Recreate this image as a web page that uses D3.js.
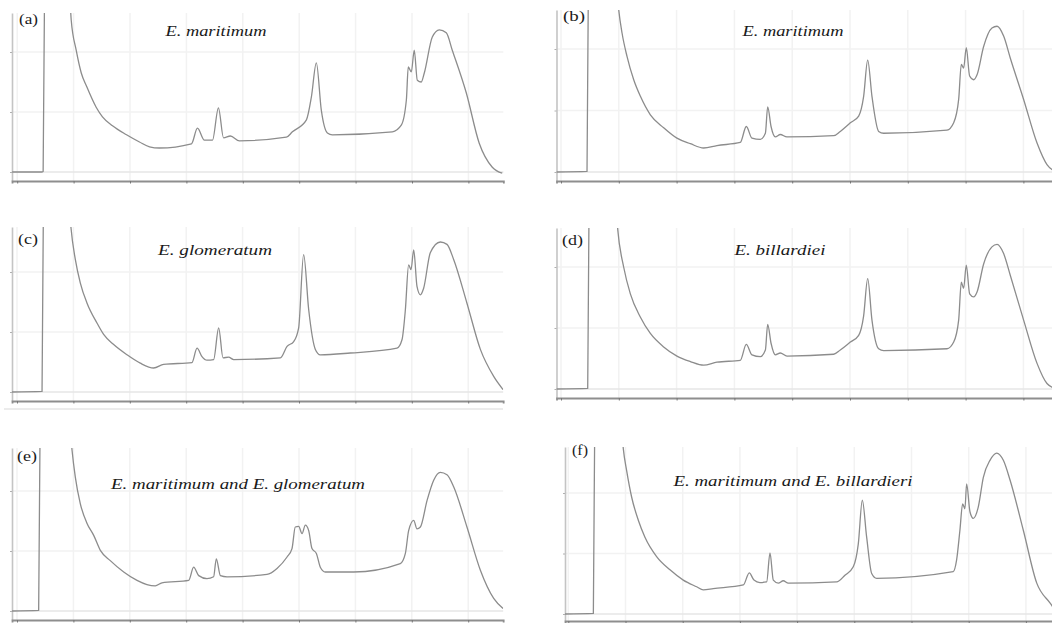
<!DOCTYPE html>
<html>
<head>
<meta charset="utf-8">
<script src="https://cdn.jsdelivr.net/npm/d3@7"></script>
<style>
    html, body { margin: 0; padding: 0; background: #fff; }
    svg { display: block; }
</style>
</head>
<body>
<div id="chart"></div>
<script>
// ========================================
// Chromatogram panels (a)–(f) — D3.js
// ========================================

// ---- Data ([time, signal]) ----
const panelLetters = ['(a)', '(b)', '(c)', '(d)', '(e)', '(f)'];
const speciesNames = [
    'E. maritimum',
    'E. maritimum',
    'E. glomeratum',
    'E. billardiei',
    'E. maritimum and E. glomeratum',
    'E. maritimum and E. billardieri'
];
const xTicks = [0, 5, 10, 15, 20, 25, 30, 35, 40];
const yTicks = [0, 1, 2];

const traceA = [
    [-0.45, 0], [2.16, 0], [2.3, 0.01], [2.45, 3.6], [4.3, 4.2], [4.79, 2.53], [5.23, 2.03],
    [5.68, 1.65], [6.17, 1.42], [7.0, 1.08], [7.56, 0.92], [8.45, 0.77], [9.69, 0.62],
    [10.84, 0.5], [11.73, 0.42], [12.61, 0.40], [15.45, 0.47], [15.98, 0.73], [16.6, 0.53],
    [17.31, 0.53], [17.84, 1.07], [18.29, 0.57], [18.9, 0.6], [19.7, 0.52], [23.86, 0.58],
    [24.4, 0.67], [25.64, 0.87], [26.08, 1.25], [26.52, 1.82], [26.96, 1.03], [27.5, 0.65],
    [27.94, 0.62], [33.26, 0.67], [34.05, 0.78], [34.5, 1.2], [34.67, 1.75], [34.94, 1.67],
    [35.2, 2.03], [35.47, 1.53], [35.82, 1.5], [36.09, 1.65], [36.8, 2.25], [37.42, 2.37],
    [38.04, 2.32], [38.57, 2.03], [39.81, 1.32], [40.96, 0.48], [42.12, 0.08], [43.0, -0.02]
];
const traceB = [
    [-0.4, 0], [2.25, 0.01], [2.39, 3.6], [4.4, 4.2], [4.99, 2.64], [5.28, 2.26], [5.71, 1.88],
    [6.29, 1.50], [6.87, 1.23], [7.73, 0.93], [8.88, 0.72], [10.03, 0.55], [11.19, 0.46],
    [12.34, 0.39], [13.49, 0.43], [15.51, 0.48], [16.03, 0.74], [16.52, 0.55], [17.24, 0.53],
    [17.68, 0.63], [17.88, 1.06], [18.17, 0.74], [18.54, 0.57], [18.97, 0.61], [19.55, 0.57],
    [23.59, 0.59], [24.16, 0.66], [25.03, 0.80], [25.75, 0.91], [26.18, 1.23], [26.53, 1.82],
    [26.9, 1.23], [27.48, 0.66], [27.91, 0.63], [33.39, 0.68], [33.97, 0.80], [34.4, 1.18],
    [34.63, 1.75], [34.83, 1.69], [35.06, 2.02], [35.35, 1.56], [35.7, 1.50], [35.99, 1.58],
    [36.56, 2.04], [37.28, 2.34], [37.72, 2.37], [38.29, 2.21], [38.87, 1.85], [40.02, 1.18],
    [41.18, 0.47], [42.04, 0.12], [42.47, 0.04], [43.1, 0.0]
];
const traceC = [
    [-0.45, 0], [2.22, 0.01], [2.36, 3.6], [4.3, 4.2], [4.79, 2.73], [5.17, 2.21], [5.61, 1.82],
    [6.21, 1.48], [7.09, 1.15], [7.68, 0.96], [8.57, 0.79], [9.75, 0.62], [10.93, 0.48],
    [12.12, 0.40], [13.0, 0.46], [15.51, 0.49], [15.96, 0.73], [16.4, 0.59], [16.84, 0.53],
    [17.43, 0.54], [17.88, 1.07], [18.26, 0.57], [18.76, 0.58], [19.21, 0.54], [23.35, 0.57],
    [23.94, 0.76], [24.53, 0.84], [24.97, 1.07], [25.41, 2.29], [25.86, 1.37], [26.45, 0.71],
    [26.89, 0.62], [29.55, 0.65], [33.69, 0.73], [34.13, 0.87], [34.43, 1.37], [34.72, 2.12],
    [34.93, 2.04], [35.17, 2.37], [35.46, 1.76], [35.76, 1.62], [36.05, 1.73], [36.64, 2.32],
    [37.53, 2.5], [38.12, 2.46], [38.71, 2.21], [39.89, 1.48], [41.08, 0.71], [42.26, 0.26],
    [43.09, 0.04]
];
const traceD = [
    [-0.4, 0], [2.31, 0.01], [2.45, 3.6], [4.4, 4.2], [4.9, 2.63], [5.42, 2.0], [6.0, 1.56],
    [6.86, 1.18], [7.73, 0.91], [8.88, 0.69], [10.03, 0.54], [11.19, 0.45], [12.34, 0.39],
    [13.49, 0.44], [15.51, 0.47], [16.03, 0.73], [16.52, 0.56], [17.24, 0.53], [17.68, 0.64],
    [17.88, 1.06], [18.17, 0.75], [18.54, 0.56], [18.97, 0.59], [19.55, 0.54], [23.59, 0.57],
    [24.16, 0.64], [25.03, 0.77], [25.75, 0.88], [26.18, 1.2], [26.53, 1.81], [26.9, 1.13],
    [27.48, 0.66], [27.91, 0.63], [33.39, 0.66], [33.97, 0.77], [34.4, 1.13], [34.63, 1.75],
    [34.83, 1.65], [35.06, 2.03], [35.35, 1.56], [35.7, 1.51], [35.99, 1.59], [36.56, 2.05],
    [37.28, 2.33], [37.72, 2.37], [38.29, 2.22], [38.87, 1.86], [40.02, 1.13], [41.18, 0.42],
    [42.04, 0.09], [42.47, 0.03], [43.1, 0.0]
];
const traceE = [
    [-0.45, 0], [1.92, 0.01], [2.07, 3.6], [4.3, 4.2], [4.88, 2.68], [5.17, 2.23], [5.61, 1.79],
    [6.21, 1.46], [6.8, 1.26], [7.39, 1.01], [8.27, 0.84], [9.46, 0.65], [10.64, 0.51],
    [11.52, 0.44], [12.26, 0.42], [12.85, 0.47], [15.22, 0.51], [15.66, 0.73], [16.11, 0.59],
    [16.84, 0.54], [17.43, 0.57], [17.67, 0.87], [18.03, 0.59], [18.62, 0.57], [22.16, 0.61],
    [23.05, 0.71], [23.94, 0.9], [24.38, 1.04], [24.67, 1.4], [24.97, 1.41], [25.27, 1.29],
    [25.56, 1.43], [25.86, 1.34], [26.15, 1.04], [26.54, 0.96], [26.89, 0.73], [27.33, 0.65],
    [29.85, 0.65], [33.98, 0.79], [34.43, 0.96], [34.72, 1.34], [35.17, 1.51], [35.46, 1.37],
    [35.76, 1.4], [36.35, 1.84], [36.94, 2.18], [37.53, 2.31], [38.12, 2.27], [38.71, 2.07],
    [39.89, 1.4], [41.08, 0.68], [42.26, 0.21], [43.09, 0.04]
];
const traceF = [
    [-0.3, 0], [2.19, 0.01], [2.33, 3.6], [4.3, 4.2], [4.81, 2.73], [5.1, 2.37], [5.54, 1.93],
    [6.12, 1.55], [6.7, 1.27], [7.72, 0.95], [8.89, 0.73], [10.05, 0.56], [11.22, 0.45],
    [11.8, 0.40], [12.67, 0.42], [15.3, 0.48], [15.82, 0.68], [16.23, 0.56], [16.75, 0.52],
    [17.34, 0.53], [17.63, 1.01], [17.92, 0.56], [18.36, 0.51], [18.79, 0.55], [19.23, 0.51],
    [23.46, 0.53], [24.18, 0.64], [24.91, 0.78], [25.35, 1.16], [25.7, 1.88], [26.08, 1.27],
    [26.52, 0.67], [26.95, 0.59], [33.65, 0.70], [33.94, 0.89], [34.23, 1.38], [34.47, 1.82],
    [34.67, 1.74], [34.82, 2.15], [35.11, 1.69], [35.4, 1.58], [35.84, 1.77], [36.28, 2.26],
    [36.86, 2.54], [37.45, 2.66], [38.03, 2.54], [38.62, 2.21], [39.78, 1.38], [40.95, 0.51],
    [42.12, 0.18], [42.55, 0.07], [43.1, 0.0]
];
const traces = [traceA, traceB, traceC, traceD, traceE, traceF];

(function () {
    'use strict';

    const W = 1052, H = 623;

    // Pixel frame of each panel (left axis, tick 0, px per unit, top, baseline, bottom axis, px per signal unit)
    const frames = [
        { left: 12,  tick0: 17.2,  ux: 11.28, top: 13,  base: 172, axisY: 181, uy: 60,
          lab: [19, 24, 19], sp: [216, 36, 101] },
        { left: 556.5, tick0: 561, ux: 11.56, top: 10,  base: 172, axisY: 181, uy: 61.5,
          lab: [563, 21, 22], sp: [793, 36, 101] },
        { left: 12,  tick0: 17,    ux: 11.28, top: 227, base: 392, axisY: 401, uy: 60,
          lab: [18, 244, 20], sp: [215, 255, 114] },
        { left: 556.5, tick0: 561, ux: 11.56, top: 228, base: 389, axisY: 398, uy: 61,
          lab: [562, 245, 21], sp: [780, 255, 91] },
        { left: 12,  tick0: 17,    ux: 11.28, top: 448, base: 611, axisY: 620, uy: 60,
          lab: [17, 461, 20], sp: [238, 489, 254] },
        { left: 565, tick0: 568.3, ux: 11.44, top: 447, base: 614, axisY: 621, uy: 60.5,
          lab: [572, 455, 16], sp: [793, 486, 239] }
    ];

    const lineColor = '#8c8c8c';
    const axisColor = '#8e8e8e';
    const gridColor = '#f2f2f2';
    const serif = '"Liberation Serif", "Times New Roman", Times, serif';

    const svg = d3.select('#chart').append('svg')
        .attr('xmlns', 'http://www.w3.org/2000/svg')
        .attr('width', W)
        .attr('height', H);

    const defs = svg.append('defs');

    // light separator below panel (c)
    svg.append('line')
        .attr('x1', 4).attr('x2', 503)
        .attr('y1', 409).attr('y2', 409)
        .attr('stroke', '#ececec')
        .attr('stroke-width', 2);

    frames.forEach((f, i) => {
        const right = Math.min(W + 10, f.tick0 + 43.1 * f.ux);
        const x = d3.scaleLinear()
            .domain([(f.left - f.tick0) / f.ux, (right - f.tick0) / f.ux])
            .range([f.left, right]);
        const y = d3.scaleLinear()
            .domain([(f.base - f.axisY) / f.uy, (f.base - f.top) / f.uy])
            .range([f.axisY, f.top]);

        const g = svg.append('g').attr('class', 'panel');

        // Grid
        g.append('g').selectAll('line.vgrid').data(xTicks).join('line')
            .attr('x1', d => x(d)).attr('x2', d => x(d))
            .attr('y1', f.top).attr('y2', f.axisY)
            .attr('stroke', gridColor).attr('stroke-width', 1.5);
        g.append('g').selectAll('line.hgrid').data(yTicks).join('line')
            .attr('x1', f.left).attr('x2', right)
            .attr('y1', d => y(d)).attr('y2', d => y(d))
            .attr('stroke', d => d === 0 ? '#e6e6e6' : gridColor)
            .attr('stroke-width', 1.5);

        // Left axis
        const yAxis = g.append('g')
            .attr('transform', `translate(${f.left},0)`)
            .call(d3.axisLeft(y).tickValues(yTicks).tickSize(2).tickSizeOuter(0).tickFormat(''));
        yAxis.select('.domain').attr('stroke', '#c4c4c4').attr('stroke-width', 1.6);
        yAxis.selectAll('.tick line').attr('stroke', '#b0b0b0');

        // Bottom axis
        const xAxis = g.append('g')
            .attr('transform', `translate(0,${f.axisY})`)
            .call(d3.axisBottom(x).tickValues(xTicks).tickSize(2.5).tickSizeOuter(2.5).tickFormat(''));
        xAxis.select('.domain').attr('stroke', axisColor).attr('stroke-width', 1.8);
        xAxis.selectAll('.tick line').attr('stroke', '#777');

        // Trace (clipped to the plot frame)
        const clipId = 'clip-' + i;
        defs.append('clipPath').attr('id', clipId)
            .append('rect')
            .attr('x', f.left).attr('y', f.top)
            .attr('width', right - f.left).attr('height', f.axisY - f.top);

        const line = d3.line()
            .x(d => x(d[0]))
            .y(d => y(d[1]))
            .curve(d3.curveMonotoneX);

        g.append('path')
            .datum(traces[i])
            .attr('clip-path', `url(#${clipId})`)
            .attr('d', line)
            .attr('fill', 'none')
            .attr('stroke', lineColor)
            .attr('stroke-width', 1.3)
            .attr('stroke-linejoin', 'round');

        // Labels
        g.append('text')
            .attr('x', f.lab[0]).attr('y', f.lab[1])
            .attr('textLength', f.lab[2])
            .attr('lengthAdjust', 'spacingAndGlyphs')
            .attr('font-family', serif)
            .attr('font-size', '14px')
            .attr('fill', '#1a1a1a')
            .text(panelLetters[i]);

        g.append('text')
            .attr('x', f.sp[0] - f.sp[2] / 2).attr('y', f.sp[1])
            .attr('textLength', f.sp[2])
            .attr('lengthAdjust', 'spacingAndGlyphs')
            .attr('font-family', serif)
            .attr('font-style', 'italic')
            .attr('font-size', '15px')
            .attr('fill', '#1a1a1a')
            .text(speciesNames[i]);
    });
})();
</script>
</body>
</html>
